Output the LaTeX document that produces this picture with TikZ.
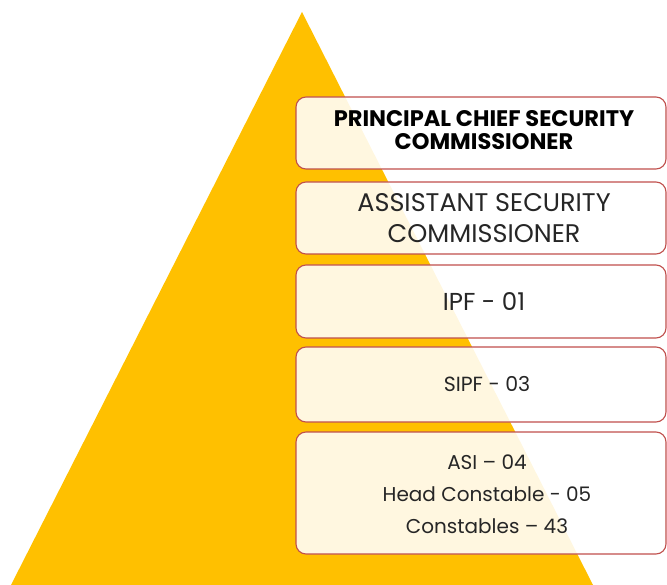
\documentclass[tikz,border=0pt]{standalone}
\usepackage{fontspec}
\setmainfont{Poppins}
\definecolor{pyellow}{HTML}{FFC000}
\definecolor{pborder}{HTML}{C0504D}
\definecolor{ptext}{HTML}{262626}
\begin{document}
\begin{tikzpicture}[x=1pt,y=-1pt,
  rankbox/.style={draw=pborder,line width=1.1pt,rounded corners=10pt,fill=white,fill opacity=0.88,text opacity=1},
  ranktext/.style={text=ptext,align=center,inner sep=0pt}]
\useasboundingbox (0,0) rectangle (667,585);
\clip (0,0) rectangle (667,585);
\fill[pyellow] (302,12) -- (11,585) -- (593,585) -- cycle;
% boxes
\draw[rankbox] (296,97) rectangle (666,169);
\draw[rankbox] (296,182) rectangle (666,254);
\draw[rankbox] (296,265) rectangle (666,338);
\draw[rankbox] (296,347) rectangle (666,422);
\draw[rankbox] (296,432) rectangle (666,554);
% texts
\node[ranktext,font=\fontsize{22.5}{23}\selectfont\bfseries,text=black] (pcsc) at (484,130) {PRINCIPAL CHIEF SECURITY\\COMMISSIONER};
\node[ranktext,font=\fontsize{25.5}{31}\selectfont] (asc) at (484,218) {ASSISTANT SECURITY\\COMMISSIONER};
\node[ranktext,font=\fontsize{24.5}{25}\selectfont] (ipf) at (484,302) {IPF - 01};
\node[ranktext,font=\fontsize{20.5}{22}\selectfont] (sipf) at (487,384) {SIPF - 03};
\node[ranktext,font=\fontsize{20}{32}\selectfont] (lower) at (487,494) {ASI – 04\\Head Constable - 05\\Constables – 43};
\end{tikzpicture}
\end{document}
